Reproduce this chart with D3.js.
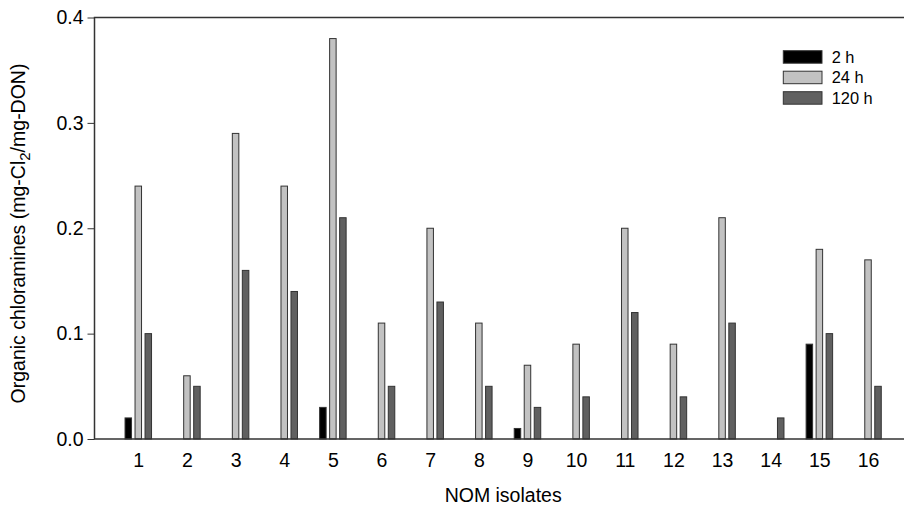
<!DOCTYPE html>
<html>
<head>
	<meta charset="utf-8">
	<script src="https://d3js.org/d3.v7.min.js"></script>
	<style>
		body { margin: 0; background: #fff; }
		text { font-family: "Liberation Sans", Arial, sans-serif; fill: #000; }
	</style>
</head>
<body>
<div id="chart"></div>
<script>
	// values, null = no bar
	var isolates = [1, 2, 3, 4, 5, 6, 7, 8, 9, 10, 11, 12, 13, 14, 15, 16];
	var series = ["2 h", "24 h", "120 h"];
	var h2 = [0.02, null, null, null, 0.03, null, null, null, 0.01, null, null, null, null, null, 0.09, null];
	var h24 = [0.24, 0.06, 0.29, 0.24, 0.38, 0.11, 0.20, 0.11, 0.07, 0.09, 0.20, 0.09, 0.21, null, 0.18, 0.17];
	var h120 = [0.10, 0.05, 0.16, 0.14, 0.21, 0.05, 0.13, 0.05, 0.03, 0.04, 0.12, 0.04, 0.11, 0.02, 0.10, 0.05];
	var yTicks = [0.0, 0.1, 0.2, 0.3, 0.4];
	var colors = ["#000000", "#c2c2c2", "#606060"];

	var width = 904, height = 507;
	var plotLeft = 94.5, plotRight = 911.8, plotTop = 17.5, plotBottom = 439;
	var fontSize = "19.5px";

	var svg = d3.select("#chart").append("svg")
		.attr("width", width)
		.attr("height", height);

	// isolate positions on a number line, axis runs a bit past the picture
	var x = d3.scaleLinear().domain([0.1, 16.9]).range([plotLeft, plotRight]);
	var y = d3.scaleLinear().domain([0, 0.4]).range([plotBottom, plotTop]);
	var inner = d3.scaleBand().domain(series).range([-15, 15])
		.paddingInner(0.35).paddingOuter(0.175);

	var rows = [];
	[h2, h24, h120].forEach(function(vals, s) {
		vals.forEach(function(v, i) {
			if (v != null) rows.push({ iso: isolates[i], s: series[s], c: colors[s], v: v });
		});
	});

	svg.append("g").selectAll("rect")
		.data(rows)
		.enter().append("rect")
		.attr("x", function(d) { return x(d.iso) + inner(d.s); })
		.attr("y", function(d) { return y(d.v); })
		.attr("width", inner.bandwidth())
		.attr("height", function(d) { return y(0) - y(d.v); })
		.attr("fill", function(d) { return d.c; })
		.attr("stroke", "#333")
		.attr("stroke-width", 1);

	// y axis
	var yAxis = d3.axisLeft(y).tickValues(yTicks).tickFormat(d3.format(".1f"))
		.tickSize(7).tickPadding(4);
	var gy = svg.append("g").attr("transform", "translate(" + plotLeft + ",0)").call(yAxis);
	gy.select(".domain").remove();
	gy.selectAll("line").attr("stroke", "#333");
	gy.selectAll("text").style("font-size", fontSize).style("font-family", "Liberation Sans, Arial, sans-serif");

	// x axis labels, no tick marks
	var xAxis = d3.axisBottom(x).tickValues(isolates).tickFormat(d3.format("d"))
		.tickSize(0).tickPadding(14.5);
	var gx = svg.append("g").attr("transform", "translate(0," + plotBottom + ")").call(xAxis);
	gx.select(".domain").remove();
	gx.selectAll("text").style("font-size", fontSize).style("font-family", "Liberation Sans, Arial, sans-serif");

	// frame: left, bottom, top
	svg.append("path")
		.attr("d", "M" + plotRight + "," + plotTop + "H" + plotLeft + "V" + plotBottom + "H" + plotRight)
		.attr("fill", "none")
		.attr("stroke", "#333")
		.attr("stroke-width", 1.5);

	// axis titles
	svg.append("text")
		.attr("x", (plotLeft + plotRight) / 2)
		.attr("y", 502)
		.attr("text-anchor", "middle")
		.style("font-size", fontSize)
		.text("NOM isolates");

	var yt = svg.append("text")
		.attr("transform", "translate(25,233.5) rotate(-90)")
		.attr("text-anchor", "middle")
		.style("font-size", fontSize);
	yt.append("tspan").text("Organic chloramines  (mg-Cl");
	yt.append("tspan").attr("dy", 5).style("font-size", "15px").text("2");
	yt.append("tspan").attr("dy", -5).text("/mg-DON)");

	// legend
	var lg = svg.append("g").attr("transform", "translate(783.3,50.7)");
	var item = lg.selectAll("g").data(series).enter().append("g")
		.attr("transform", function(d, i) { return "translate(0," + i * 20.5 + ")"; });
	item.append("rect")
		.attr("width", 38.7).attr("height", 12.5)
		.attr("fill", function(d, i) { return colors[i]; })
		.attr("stroke", "#333");
	item.append("text")
		.attr("x", 48.4).attr("y", 12)
		.style("font-size", "16.4px")
		.text(function(d) { return d; });
</script>
</body>
</html>
